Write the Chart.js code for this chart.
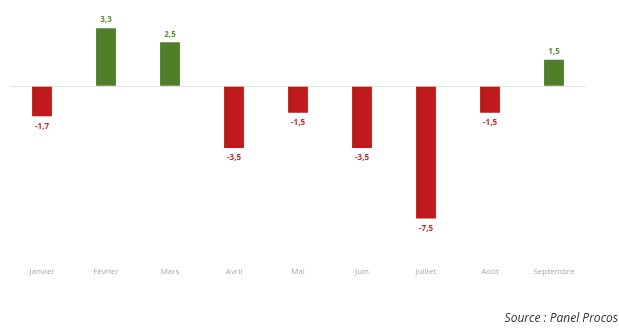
<!DOCTYPE html>
<html>
<head>
<meta charset="utf-8">
<script src="https://cdn.jsdelivr.net/npm/chart.js@4/dist/chart.umd.min.js"></script>
<style>
  html, body { margin: 0; padding: 0; background: #fff; }
  #wrap { position: relative; width: 619px; height: 329px; }
  #source { position: absolute; right: 1px; top: 309px; font-family: "Open Sans", sans-serif; font-style: italic; font-size: 12px; color: #333; }
</style>
</head>
<body>
<div id="wrap">
  <canvas id="evolution" width="619" height="329"></canvas>
  <div id="source">Source : Panel Procos</div>
</div>
<script>
let months = ["Janvier", "Février", "Mars", "Avril", "Mai", "Juin", "Juillet", "Août", "Septembre"];
let variations = [-1.7, 3.3, 2.5, -3.5, -1.5, -3.5, -7.5, -1.5, 1.5];

let greenBar = "#4f7f2b", redBar = "#c0191b";
let greenText = "#5e8c3a", redText = "#c62a2a";

function barColor(ctx) {
  return ctx.raw >= 0 ? greenBar : redBar;
}

// petites étiquettes de valeur au-dessus / en dessous des barres
let valueLabels = {
  id: "valueLabels",
  afterDatasetsDraw(chart) {
    let ctx = chart.ctx;
    let meta = chart.getDatasetMeta(0);
    ctx.save();
    ctx.font = "bold 8px 'Open Sans', sans-serif";
    ctx.textAlign = "center";
    ctx.textBaseline = "middle";
    meta.data.forEach(function (bar, i) {
      let v = variations[i];
      let txt = v.toFixed(1).replace(".", ",");
      ctx.fillStyle = v >= 0 ? greenText : redText;
      ctx.fillText(txt, bar.x, v >= 0 ? bar.y - 8 : bar.y + 10);
    });
    ctx.restore();
  }
};

new Chart(document.getElementById("evolution").getContext("2d"), {
  type: "bar",
  data: {
    labels: months,
    datasets: [{
      data: variations,
      backgroundColor: barColor,
      categoryPercentage: 1,
      barPercentage: 0.31
    }]
  },
  options: {
    responsive: false,
    animation: false,
    layout: { padding: { left: 10, right: 33, top: 7, bottom: 48 } },
    plugins: { legend: { display: false }, tooltip: { enabled: false } },
    scales: {
      x: {
        grid: { display: false },
        border: { display: false },
        ticks: { color: "#a8a8a8", font: { size: 8, family: "'Open Sans', sans-serif" }, padding: 4, maxRotation: 0 }
      },
      y: {
        min: -9.6,
        max: 4.5,
        afterBuildTicks: function (axis) { axis.ticks = [{ value: 0 }]; },
        ticks: { display: false },
        border: { display: false },
        grid: { color: "#e2e2e2", lineWidth: 1, drawTicks: false }
      }
    }
  },
  plugins: [valueLabels]
});
</script>
</body>
</html>
